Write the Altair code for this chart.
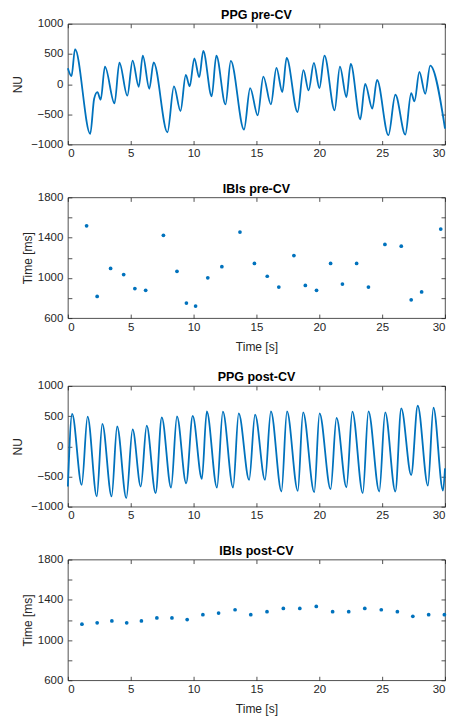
import altair as alt
import pandas as pd

BLUE = "#0072BD"
INK = "#262626"
FONT = "Liberation Sans"

# ---- PPG pre-CV (extrema) ----
pre_t = [0, 0.29, 0.57, 1.78, 2.09, 2.35, 2.61, 2.95, 3.71, 4.10, 4.73, 5.15, 5.64, 5.96,
         6.48, 6.82, 7.92, 8.44, 8.96, 9.38, 9.69, 10.06, 10.45, 10.77, 11.44, 11.81, 12.54,
         12.96, 14.01, 14.50, 15.10, 15.55, 16.15, 16.59, 17.06, 17.40, 18.27, 18.74, 19.15,
         19.57, 20.01, 20.41, 21.22, 21.64, 22.16, 22.50, 23.26, 23.65, 24.22, 24.59, 25.50,
         26.05, 26.84, 27.31, 27.57, 27.96, 28.43, 28.82, 30]
pre_v = [264, 132, 580, -824, -242, -132, -258, 291, -319, 357, -192, 390, -44, 472,
         -77, 362, -797, -38, -445, 154, -38, 428, 115, 549, -203, 472, -335,
         385, -753, -66, -516, 126, -335, 269, -132, 434, -462, 231, -104,
         352, -66, 472, -434, 291, -214, 335, -582, 5, -407, 71, -846,
         -176, -835, -148, -286, 203, -159, 308, -736]

# ---- IBIs pre-CV ----
ibi_pre_t = [1.49, 2.33, 3.40, 4.44, 5.33, 6.19, 7.60, 8.68, 9.43, 10.16, 11.13, 12.25, 13.69,
             14.84, 15.86, 16.78, 17.98, 18.89, 19.78, 20.90, 21.84, 22.97, 23.91, 25.22,
             26.52, 27.31, 28.14, 29.66]
ibi_pre_v = [1517, 815, 1094, 1033, 893, 876, 1423, 1065, 750, 720, 1000, 1111, 1455,
             1143, 1016, 909, 1221, 925, 876, 1143, 938, 1143, 909, 1332,
             1315, 782, 860, 1485]

# ---- PPG post-CV ----
post_t = [0, 0.34, 1.10, 1.57, 2.30, 2.74, 3.48, 3.92, 4.65, 5.15, 5.80, 6.27, 6.98, 7.47,
          8.21, 8.68, 9.41, 9.93, 10.66, 11.05, 11.86, 12.33, 13.14, 13.59, 14.42, 14.89,
          15.68, 16.15, 16.99, 17.43, 18.29, 18.71, 19.60, 20.02, 20.90, 21.37, 22.16, 22.63,
          23.46, 23.91, 24.77, 25.24, 26.05, 26.52, 27.31, 27.83, 28.64, 29.08, 29.84, 30]
post_v = [-667, 535, -639, 492, -830, 372, -830, 328, -858, 279, -667, 344, -776, 481,
          -683, 497, -612, 503, -541, 579, -683, 574, -683, 546, -557, 525,
          -557, 579, -749, 579, -738, 563, -760, 546, -710, 470, -678, 574,
          -776, 579, -749, 563, -749, 628, -475, 672, -650, 639, -732, -366]

# ---- IBIs post-CV ----
ibi_post_t = [1.12, 2.33, 3.50, 4.68, 5.85, 7.08, 8.28, 9.49, 10.74, 11.99, 13.30, 14.55,
              15.84, 17.14, 18.45, 19.76, 21.06, 22.34, 23.62, 24.93, 26.21, 27.44, 28.70, 29.95]
ibi_post_v = [1158, 1171, 1190, 1171, 1190, 1220, 1220, 1203, 1252, 1268, 1301, 1252,
              1282, 1314, 1314, 1334, 1282, 1282, 1314, 1301, 1282, 1236, 1252, 1252]

x_ticks = [0, 5, 10, 15, 20, 25, 30]
ppg_ticks = [-1000, -500, 0, 500, 1000]
ibi_ticks = [600, 800, 1000, 1200, 1400, 1600, 1800]

W, H = 378, 121
TICK = 4


def panel(t, v, kind, title, ytitle, ydomain, yticks, xtitle, ytitle_pad, label_expr=None):
    df = pd.DataFrame({"t": t, "v": v})
    base = alt.Chart(df)
    xscale = alt.Scale(domain=[0, 30], nice=False, zero=False)
    yscale = alt.Scale(domain=ydomain, nice=False, zero=False)
    yaxis_kw = dict(values=yticks, orient="left", offset=-TICK, tickSize=TICK, domain=False,
                    labelPadding=5, title=ytitle, titlePadding=ytitle_pad, format="d",
                    minExtent=0)
    if label_expr:
        yaxis_kw["labelExpr"] = label_expr
    xaxis_kw = dict(values=x_ticks, orient="bottom", offset=-TICK, tickSize=TICK, domain=False,
                    labelPadding=3, titlePadding=9, format="d", minExtent=0)
    enc = dict(
        x=alt.X("t:Q", scale=xscale, axis=alt.Axis(**xaxis_kw), title=xtitle),
        y=alt.Y("v:Q", scale=yscale, axis=alt.Axis(**yaxis_kw)),
    )
    if kind == "line":
        main = base.mark_line(color=BLUE, strokeWidth=1.8, interpolate="monotone").encode(**enc)
    else:
        main = base.mark_circle(color=BLUE, size=14, opacity=1).encode(**enc)
    mirror = base.mark_point(opacity=0).encode(
        x=alt.X("t:Q", scale=xscale,
                axis=alt.Axis(values=x_ticks, orient="top", offset=-TICK, tickSize=TICK,
                              domain=False, labels=False, minExtent=0, maxExtent=0), title=None),
        y=alt.Y("v:Q", scale=yscale,
                axis=alt.Axis(values=yticks, orient="right", offset=-TICK, tickSize=TICK,
                              domain=False, labels=False, minExtent=0, maxExtent=0), title=None),
    )
    return (alt.layer(main, mirror)
            .resolve_axis(x="independent", y="independent")
            .properties(width=W, height=H, title=title))


p1 = panel(pre_t, pre_v, "line", "PPG pre-CV", "NU", [-1000, 1000], ppg_ticks, None, 6)
p2 = panel(ibi_pre_t, ibi_pre_v, "point", "IBIs pre-CV", "Time [ms]", [600, 1800], ibi_ticks,
           "Time [s]", 3, "datum.value % 400 == 0 ? '' : datum.label")
p3 = panel(post_t, post_v, "line", "PPG post-CV", "NU", [-1000, 1000], ppg_ticks, None, 6)
p4 = panel(ibi_post_t, ibi_post_v, "point", "IBIs post-CV", "Time [ms]", [600, 1800], ibi_ticks,
           "Time [s]", 3, "datum.value % 400 == 0 ? '' : datum.label")

top = alt.vconcat(p1, p2, spacing=53, bounds="flush")
bottom = alt.vconcat(p3, p4, spacing=53, bounds="flush")

chart = (alt.vconcat(top, bottom, spacing=18)
         .properties(padding={"left": 3, "top": 0, "right": 0, "bottom": 0},
                     background="white")
         .configure_view(stroke=INK, strokeWidth=0.8)
         .configure_axis(grid=False, labelFont=FONT, labelFontSize=11.5, labelColor=INK,
                         titleFont=FONT, titleFontSize=12, titleFontWeight="normal",
                         titleColor=INK, tickColor=INK, tickWidth=0.8)
         .configure_title(font=FONT, fontSize=12.5, fontWeight="bold", color="#000000",
                          offset=-4, anchor="middle"))

chart.save("out.html", embed_options={"renderer": "svg", "actions": False})
